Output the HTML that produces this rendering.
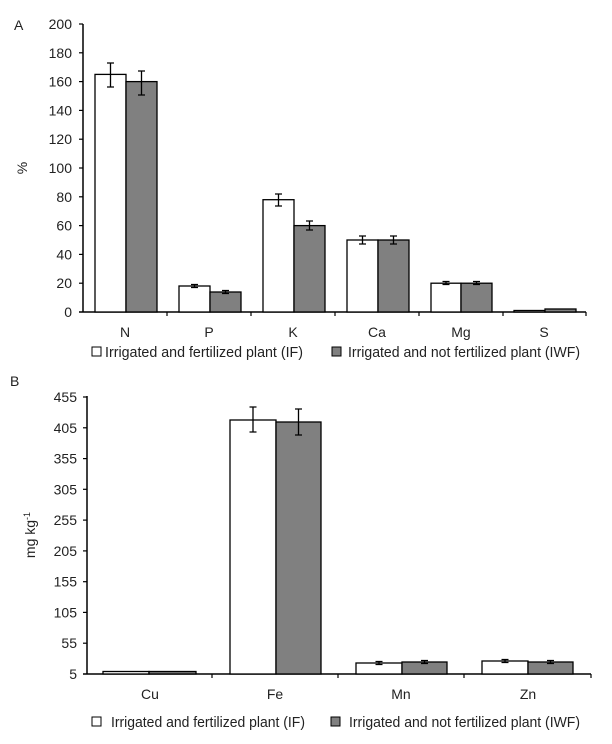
<!DOCTYPE html>
<html><head><style>body{margin:0;background:#fff}svg{display:block}text{font-family:"Liberation Sans",sans-serif;fill:#222}</style></head>
<body>
<svg width="612" height="744" viewBox="0 0 612 744" xmlns="http://www.w3.org/2000/svg">
<g font-size="14">
<text x="14" y="30">A</text>
<g stroke="#000" stroke-width="1.5">
<line x1="83" y1="24" x2="83" y2="312"/>
<line x1="79" y1="312" x2="586" y2="312"/>
</g>
<g stroke="#000" stroke-width="1.2">
<line x1="79" y1="24" x2="83" y2="24"/><line x1="79" y1="52.8" x2="83" y2="52.8"/><line x1="79" y1="81.6" x2="83" y2="81.6"/><line x1="79" y1="110.4" x2="83" y2="110.4"/><line x1="79" y1="139.2" x2="83" y2="139.2"/><line x1="79" y1="168" x2="83" y2="168"/><line x1="79" y1="196.8" x2="83" y2="196.8"/><line x1="79" y1="225.6" x2="83" y2="225.6"/><line x1="79" y1="254.4" x2="83" y2="254.4"/><line x1="79" y1="283.2" x2="83" y2="283.2"/>
<line x1="167" y1="312" x2="167" y2="316"/><line x1="251" y1="312" x2="251" y2="316"/><line x1="335" y1="312" x2="335" y2="316"/><line x1="419" y1="312" x2="419" y2="316"/><line x1="503" y1="312" x2="503" y2="316"/><line x1="586" y1="312" x2="586" y2="316"/>
</g>
<g text-anchor="end">
<text x="72" y="29">200</text><text x="72" y="57.8">180</text><text x="72" y="86.6">160</text><text x="72" y="115.4">140</text><text x="72" y="144.2">120</text><text x="72" y="173">100</text><text x="72" y="201.8">80</text><text x="72" y="230.6">60</text><text x="72" y="259.4">40</text><text x="72" y="288.2">20</text><text x="72" y="317">0</text>
</g>
<text transform="translate(27,168) rotate(-90)" text-anchor="middle" fill="#555">%</text>
<g text-anchor="middle">
<text x="125" y="337">N</text><text x="209" y="337">P</text><text x="293" y="337">K</text><text x="377" y="337">Ca</text><text x="461" y="337">Mg</text><text x="544" y="337">S</text>
</g>
<g stroke="#000" stroke-width="1.3">
<rect x="95" y="74.4" width="31" height="237.6" fill="#fff"/><rect x="126" y="81.6" width="31" height="230.4" fill="#808080"/>
<rect x="179" y="286" width="31" height="26" fill="#fff"/><rect x="210" y="292" width="31" height="20" fill="#808080"/>
<rect x="263" y="199.7" width="31" height="112.3" fill="#fff"/><rect x="294" y="225.6" width="31" height="86.4" fill="#808080"/>
<rect x="347" y="240" width="31" height="72" fill="#fff"/><rect x="378" y="240" width="31" height="72" fill="#808080"/>
<rect x="431" y="283.2" width="30" height="28.8" fill="#fff"/><rect x="461" y="283.2" width="31" height="28.8" fill="#808080"/>
<rect x="514" y="310.5" width="31" height="1.5" fill="#fff"/><rect x="545" y="309" width="31" height="3" fill="#808080"/>
</g>
<g stroke="#000" stroke-width="1.3" fill="none">
<path d="M110.5 63v24M107 63h7M107 87h7"/><path d="M141.5 71v24M138 71h7M138 95h7"/>
<path d="M194.5 284.5v3M191 284.5h7M191 287.5h7"/><path d="M225.5 290.5v3M222 290.5h7M222 293.5h7"/>
<path d="M278.5 194v12M275 194h7M275 206h7"/><path d="M309.5 221v9M306 221h7M306 230h7"/>
<path d="M362.5 236v8M359 236h7M359 244h7"/><path d="M393.5 236v8M390 236h7M390 244h7"/>
<path d="M446 281.5v3M442.5 281.5h7M442.5 284.5h7"/><path d="M476.5 281.5v3M473 281.5h7M473 284.5h7"/>
</g>
<rect x="92" y="347" width="9" height="9" fill="#fff" stroke="#000"/>
<text x="105" y="357" font-size="15" textLength="198" lengthAdjust="spacingAndGlyphs">Irrigated and fertilized plant (IF)</text>
<rect x="332" y="347" width="9" height="9" fill="#808080" stroke="#000"/>
<text x="348" y="357" font-size="15" textLength="232" lengthAdjust="spacingAndGlyphs">Irrigated and not fertilized plant (IWF)</text>

<text x="10" y="386">B</text>
<g stroke="#000" stroke-width="1.5">
<line x1="87" y1="396" x2="87" y2="674"/>
<line x1="83" y1="674" x2="591" y2="674"/>
</g>
<g stroke="#000" stroke-width="1.2">
<line x1="83" y1="397" x2="87" y2="397"/><line x1="83" y1="427.8" x2="87" y2="427.8"/><line x1="83" y1="458.6" x2="87" y2="458.6"/><line x1="83" y1="489.3" x2="87" y2="489.3"/><line x1="83" y1="520.1" x2="87" y2="520.1"/><line x1="83" y1="550.9" x2="87" y2="550.9"/><line x1="83" y1="581.7" x2="87" y2="581.7"/><line x1="83" y1="612.4" x2="87" y2="612.4"/><line x1="83" y1="643.2" x2="87" y2="643.2"/>
<line x1="212" y1="674" x2="212" y2="678"/><line x1="338" y1="674" x2="338" y2="678"/><line x1="464" y1="674" x2="464" y2="678"/><line x1="591" y1="674" x2="591" y2="678"/>
</g>
<g text-anchor="end">
<text x="77" y="402">455</text><text x="77" y="432.8">405</text><text x="77" y="463.6">355</text><text x="77" y="494.3">305</text><text x="77" y="525.1">255</text><text x="77" y="555.9">205</text><text x="77" y="586.7">155</text><text x="77" y="617.4">105</text><text x="77" y="648.2">55</text><text x="77" y="679">5</text>
</g>
<text transform="translate(35,535) rotate(-90)" text-anchor="middle" fill="#555">mg kg<tspan font-size="9" dy="-5">-1</tspan></text>
<g text-anchor="middle">
<text x="150" y="699">Cu</text><text x="275" y="699">Fe</text><text x="401" y="699">Mn</text><text x="528" y="699">Zn</text>
</g>
<g stroke="#000" stroke-width="1.3">
<rect x="103" y="671.5" width="46" height="2.5" fill="#fff"/><rect x="149" y="671.5" width="47" height="2.5" fill="#808080"/>
<rect x="230" y="420" width="46" height="254" fill="#fff"/><rect x="276" y="422" width="45" height="252" fill="#808080"/>
<rect x="356" y="663" width="46" height="11" fill="#fff"/><rect x="402" y="662" width="45" height="12" fill="#808080"/>
<rect x="482" y="661" width="46" height="13" fill="#fff"/><rect x="528" y="662" width="45" height="12" fill="#808080"/>
</g>
<g stroke="#000" stroke-width="1.3" fill="none">
<path d="M253 407v25M249.5 407h7M249.5 432h7"/><path d="M298.5 409v26M295 409h7M295 435h7"/>
<path d="M379 661.5v3M375.5 661.5h7M375.5 664.5h7"/><path d="M424.5 660.5v3M421 660.5h7M421 663.5h7"/>
<path d="M505 659.5v3M501.5 659.5h7M501.5 662.5h7"/><path d="M550.5 660.5v3M547 660.5h7M547 663.5h7"/>
</g>
<rect x="92" y="717" width="9" height="9" fill="#fff" stroke="#000"/>
<text x="111" y="727" font-size="15" textLength="194" lengthAdjust="spacingAndGlyphs">Irrigated and fertilized plant (IF)</text>
<rect x="331" y="717" width="9" height="9" fill="#808080" stroke="#000"/>
<text x="349" y="727" font-size="15" textLength="231" lengthAdjust="spacingAndGlyphs">Irrigated and not fertilized plant (IWF)</text>
</g>
</svg>
</body></html>
